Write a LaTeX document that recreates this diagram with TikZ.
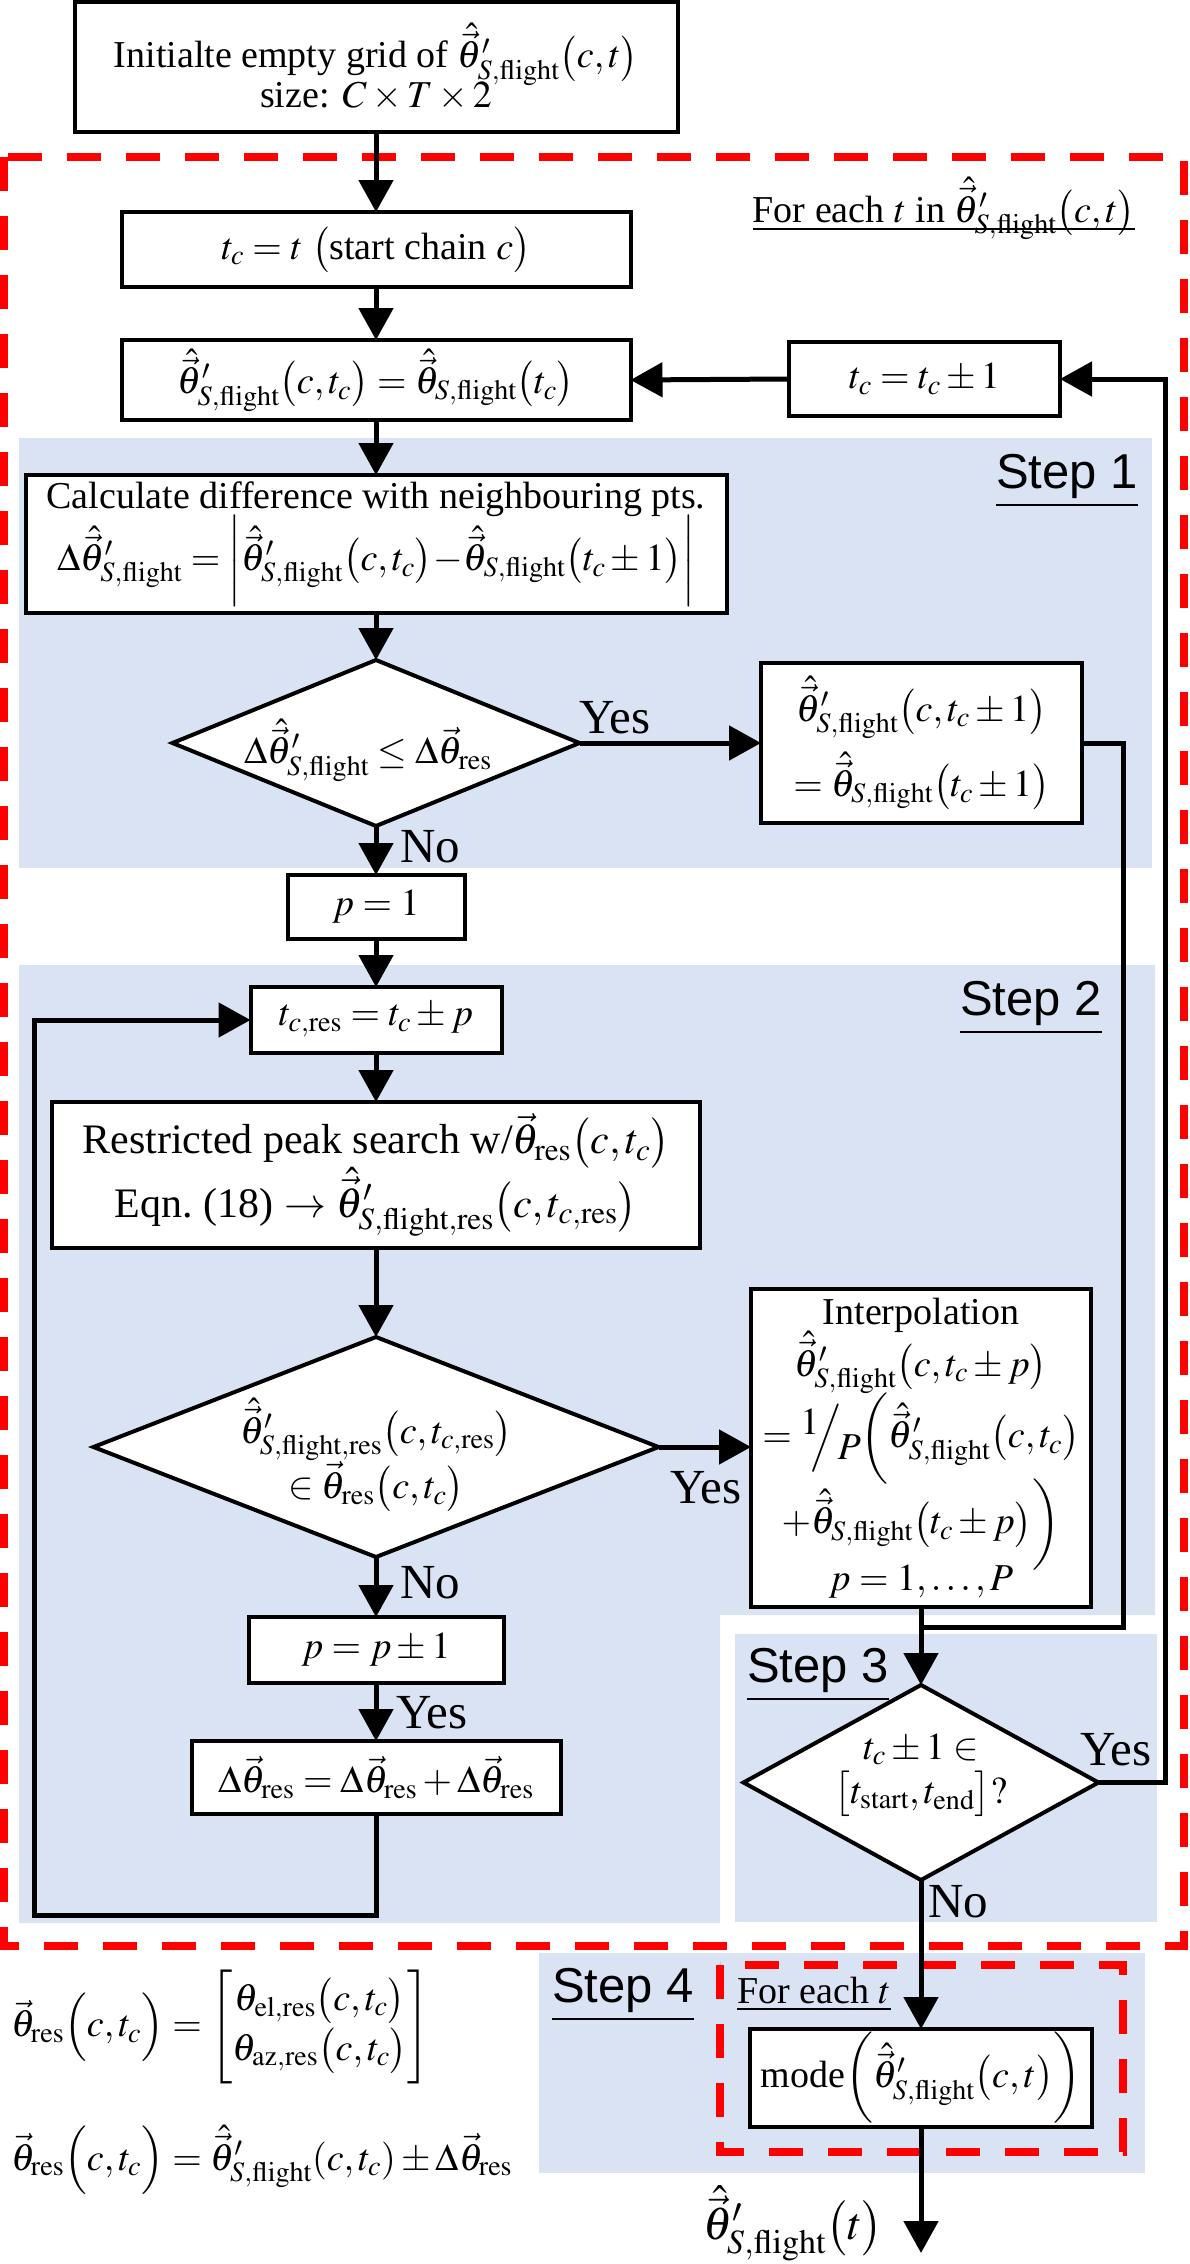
\documentclass[tikz,border=0pt]{standalone}
\usepackage{amsmath}
\usepackage{mathptmx}
\usepackage[no-math]{fontspec}
\setmainfont{Liberation Serif}
\newfontfamily\sansfam{Liberation Sans}
\usetikzlibrary{arrows.meta,shapes.geometric}
\definecolor{stepblue}{RGB}{218,227,243}
\newcommand{\bfs}{\fontsize{38}{46}\selectfont}
\newcommand{\rfs}{\fontsize{42}{50}\selectfont}
\newcommand{\labfs}{\fontsize{49}{54}\selectfont}
\newcommand{\stepfs}{\sansfam\fontsize{49}{56}\selectfont}
\newcommand{\bigfs}{\fontsize{46}{52}\selectfont}
\newcommand{\thp}{\hat{\vec{\theta}}'_{S,\mathrm{flight}}}
\newcommand{\thn}{\hat{\vec{\theta}}_{S,\mathrm{flight}}}
\newcommand{\vres}{\vec{\theta}_{\mathrm{res}}}
\newcommand{\rowstrut}{\rule[-17pt]{0pt}{50pt}}
\tikzset{
  box/.style={draw, line width=4pt, fill=white, inner sep=0pt, outer sep=0pt, align=center, font=\bfs},
  dia/.style={diamond, draw, line width=4pt, fill=white, inner sep=0pt, outer sep=0pt},
  dtext/.style={inner sep=0pt, align=center, font=\bfs},
  conn/.style={line width=5pt},
  arr/.style={conn, -{Triangle[length=32pt,width=34pt]}},
  lab/.style={font=\labfs, inner sep=0pt},
  steplab/.style={font=\stepfs, inner sep=0pt, anchor=base},
  reddash/.style={draw=red, line width=8.5pt, dash pattern=on 34pt off 25pt},
  region/.style={fill=stepblue, draw=none},
  uline/.style={line width=2.2pt}
}
\begin{document}
\begin{tikzpicture}[x=1pt,y=-1pt]
\useasboundingbox (0,0) rectangle (1190,2264);
\fill[white] (0,0) rectangle (1190,2264);
% step regions
\fill[region] (19,438) rectangle (1152,868);
\fill[region] (19,965) -- (1155,965) -- (1155,1615) -- (720,1615) -- (720,1923) -- (19,1923) -- cycle;
\fill[region] (735,1634) rectangle (1157,1922);
\fill[region] (539,1953) rectangle (1145,2173);
% dashed frames
\draw[reddash] (4,157) rectangle (1184,1946);
\draw[reddash] (720,1965) rectangle (1123,2152);
% step labels
\node[steplab] (s1) at (1067,488) {\underline{Step 1}};
\node[steplab] (s2) at (1031,1015) {\underline{Step 2}};
\node[steplab] (s3) at (818,1682) {\underline{Step 3}};
\node[steplab] (s4) at (623,2002) {\underline{Step 4}};
\node[font=\bfs, inner sep=0pt, anchor=base] (fe1) at (944,222) {For each $t$ in $\thp\bigl(c,t\bigr)$};
\coordinate (ulY) at (0,229);
\draw[uline] (fe1.west |- ulY) -- (fe1.east |- ulY);
\node[font=\bfs, inner sep=0pt, anchor=base] (fe2) at (814,2003) {\underline{For each $t$}};
% nodes
\node[box, minimum width=603pt, minimum height=130pt] (init) at (376,67) {Initialte empty grid of $\thp\bigl(c,t\bigr)$\\[-6pt] size: $C\times T\times 2$};
\node[box, minimum width=509pt, minimum height=75pt] (tcbox) at (376,249.5) {$t_c=t$ $\bigl($start chain $c\bigr)$};
\node[box, minimum width=509pt, minimum height=80pt] (thbox) at (376,380) {$\thp\bigl(c,t_c\bigr)=\thn\bigl(t_c\bigr)$};
\node[box, minimum width=271pt, minimum height=74pt] (tpm1) at (924.5,379) {$t_c=t_c\pm1$};
\node[box, minimum width=701pt, minimum height=138pt] (calc) at (376,544) {Calculate difference with neighbouring pts.\\[-2pt] $\Delta\thp=\biggl|\thp\bigl(c,t_c\bigr)\!-\!\thn\bigl(t_c\pm1\bigr)\biggr|$};
\node[dia, minimum width=407pt, minimum height=166pt] (d1) at (376,743) {};
\node[dtext] (d1t) at (368,750) {$\Delta\thp\le\Delta\vres$};
\node[box, minimum width=321pt, minimum height=160pt] (b1r) at (921.5,743) {$\thp\bigl(c,t_c\pm1\bigr)$\\[12pt] $=\thn\bigl(t_c\pm1\bigr)$};
\node[box, minimum width=177pt, minimum height=64pt] (p1) at (376,907) {$p=1$};
\node[box, minimum width=251pt, minimum height=66pt] (tcres) at (376,1020) {$t_{c,\mathrm{res}}=t_c\pm p$};
\node[box, font=\rfs, minimum width=648pt, minimum height=146pt] (rbox) at (376,1175) {Restricted peak search w/$\vres\bigl(c,t_c\bigr)$\\[-2pt] Eqn.~(18) $\rightarrow$ $\hat{\vec{\theta}}'_{S,\mathrm{flight,res}}\bigl(c,t_{c,\mathrm{res}}\bigr)$};
\node[dia, minimum width=565pt, minimum height=220pt] (d2) at (376,1447) {};
\node[dtext] (d2t) at (376,1455) {$\hat{\vec{\theta}}'_{S,\mathrm{flight,res}}\bigl(c,t_{c,\mathrm{res}}\bigr)$\\[0pt] $\in\vres\bigl(c,t_c\bigr)$};
\node[box, minimum width=340pt, minimum height=318pt] (ibox) at (921,1448) {Interpolation\\[-2pt] $\thp\bigl(c,t_c\pm p\bigr)$\\[-2pt] $=\raisebox{0.35em}{$1$}\!\!\Big/\!\raisebox{-0.3em}{$P$}\biggl(\thp\bigl(c,t_c\bigr)$\\[-6pt] $+\thn\bigl(t_c\pm p\bigr)\biggr)$\\[-6pt] $p=1,\ldots,P$};
\node[box, minimum width=255pt, minimum height=66pt] (pp) at (376,1650) {$p=p\pm1$};
\node[box, minimum width=369pt, minimum height=73pt] (dres) at (376,1777.5) {$\Delta\vres=\Delta\vres+\Delta\vres$};
\node[dia, minimum width=355pt, minimum height=195pt] (d3) at (921,1782.5) {};
\node[dtext] (d3t) at (921,1775) {$t_c\pm1\in$\\[-2pt] $\bigl[t_{\mathrm{start}},t_{\mathrm{end}}\bigr]?$};
\node[box, minimum width=342pt, minimum height=98pt] (mode) at (921,2078) {mode$\biggl(\thp\bigl(c,t\bigr)\biggr)$};
% labels
\node[lab] (y1) at (615,718) {Yes};
\node[lab] (n1) at (430,847) {No};
\node[lab] (y2) at (706,1488) {Yes};
\node[lab] (n2) at (430,1583) {No};
\node[lab] (y3) at (432,1713) {Yes};
\node[lab] (y4) at (1116,1750) {Yes};
\node[lab] (n3) at (958,1902) {No};
% equations
\node[font=\bfs, inner sep=0pt, anchor=west] (eqA) at (11,2027) {$\vres\Bigl(c,t_c\Bigr)=\begin{bmatrix}\rowstrut\theta_{\mathrm{el,res}}\bigl(c,t_c\bigr)\\ \rowstrut\theta_{\mathrm{az,res}}\bigl(c,t_c\bigr)\end{bmatrix}$};
\node[font=\bfs, inner sep=0pt, anchor=base west] (eqB) at (11,2170) {$\vres\Bigl(c,t_c\Bigr)=\thp(c,t_c)\pm\Delta\vres$};
% coordinates
\coordinate (lpA) at (34,1915);
\coordinate (rt) at (1165,379);
\coordinate (rj) at (1123,1627);
\coordinate (jn) at (921,1627);
\coordinate (outend) at (921,2253);
\node[font=\bigfs, inner sep=0pt] (outl) at (793,2223) {$\thp\bigl(t\bigr)$};
% connectors
\draw[arr] (init.south) -- (tcbox.north);
\draw[arr] (tcbox.south) -- (thbox.north);
\draw[arr] (tpm1.west) -- (thbox.east);
\draw[arr] (thbox.south) -- (calc.north);
\draw[arr] (calc.south) -- (d1.north);
\draw[arr] (d1.east) -- (b1r.west);
\draw[arr] (d1.south) -- (p1.north);
\draw[arr] (p1.south) -- (tcres.north);
\draw[arr] (tcres.south) -- (rbox.north);
\draw[arr] (rbox.south) -- (d2.north);
\draw[arr] (d2.east) -- (d2.east -| ibox.west);
\draw[arr] (d2.south) -- (pp.north);
\draw[arr] (pp.south) -- (dres.north);
\draw[arr] (dres.south) -- (dres.south |- lpA) -- (lpA) |- (tcres.west);
\draw[conn] (b1r.east) -| (rj) -- (jn);
\draw[arr] (ibox.south) -- (d3.north);
\draw[arr] (d3.east) -| (rt) -- (tpm1.east);
\draw[arr] (d3.south) -- (mode.north);
\draw[arr] (mode.south) -- (outend);
\end{tikzpicture}
\end{document}
